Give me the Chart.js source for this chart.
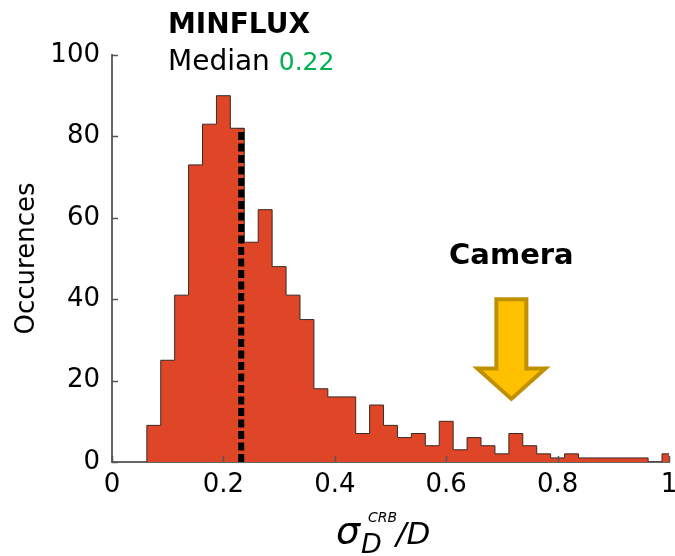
<!DOCTYPE html>
<html>
<head>
<meta charset="utf-8">
<script src="https://cdn.jsdelivr.net/npm/chart.js@4.4.0/dist/chart.umd.min.js"></script>
<style>
  html, body { margin: 0; padding: 0; background: #fff; }
  #wrap { width: 675px; height: 556px; position: relative; }
</style>
</head>
<body>
<div id="wrap"><canvas id="hist"></canvas></div>
<script>
// histogram bins (centre of each bin) and counts
const binCenters = [0.075, 0.1, 0.125, 0.15, 0.175, 0.2, 0.225, 0.25, 0.275, 0.3,
                    0.325, 0.35, 0.375, 0.4, 0.425, 0.45, 0.475, 0.5, 0.525, 0.55,
                    0.575, 0.6, 0.625, 0.65, 0.675, 0.7, 0.725, 0.75, 0.775, 0.8,
                    0.825, 0.85, 0.875, 0.9, 0.925, 0.95, 0.975, 1.0];
const counts = [9, 25, 41, 73, 83, 90, 82, 54, 62, 48,
                41, 35, 18, 16, 16, 7, 14, 9, 6, 7,
                4, 10, 3, 6, 4, 2, 7, 4, 2, 1,
                2, 1, 1, 1, 1, 1, 0, 2];
const binWidth = 0.025;

const xTicks = [0, 0.2, 0.4, 0.6, 0.8, 1];
const yTicks = [0, 20, 40, 60, 80, 100];

// median marker
const medianLabel = '0.22';
const medianLineX = 0.232;
const medianLineTop = 82;

// camera arrow (x position, shaft top, head base, tip)
const cameraX = 0.717;
const arrowTop = 40;
const arrowHead = 23;
const arrowTip = 15.5;

// outline of the histogram as a stepped path from the bins
const stepPoints = [{ x: binCenters[0] - binWidth / 2, y: 0 }];
binCenters.forEach((c, i) => stepPoints.push({ x: c - binWidth / 2, y: counts[i] }));
const lastEdge = binCenters[binCenters.length - 1] + binWidth / 2;
stepPoints.push({ x: lastEdge, y: counts[counts.length - 1] });
stepPoints.push({ x: lastEdge, y: 0 });

Chart.defaults.font.family = '"DejaVu Sans", sans-serif';
Chart.defaults.color = '#000';

// MATLAB style ticks pointing into the plot
const innerTicks = {
  id: 'innerTicks',
  afterDatasetsDraw(chart) {
    const ctx = chart.ctx;
    const { left, bottom } = chart.chartArea;
    ctx.save();
    ctx.strokeStyle = '#555';
    ctx.lineWidth = 1.5;
    ctx.beginPath();
    chart.scales.y.ticks.forEach(t => {
      const py = Math.round(chart.scales.y.getPixelForValue(t.value)) + 0.5;
      ctx.moveTo(left, py);
      ctx.lineTo(left + 6, py);
    });
    chart.scales.x.ticks.forEach(t => {
      const px = Math.round(chart.scales.x.getPixelForValue(t.value)) + 0.5;
      ctx.moveTo(px, bottom);
      ctx.lineTo(px, bottom - 6);
    });
    ctx.stroke();
    ctx.restore();
  }
};

const annotations = {
  id: 'annotations',
  afterDraw(chart) {
    const ctx = chart.ctx;
    const xs = chart.scales.x, ys = chart.scales.y;
    const left = chart.chartArea.left;

    // camera arrow
    const ax = xs.getPixelForValue(cameraX);
    const yTop = ys.getPixelForValue(arrowTop);
    const yHead = ys.getPixelForValue(arrowHead);
    const yTip = ys.getPixelForValue(arrowTip);
    ctx.save();
    ctx.beginPath();
    ctx.moveTo(ax - 15, yTop);
    ctx.lineTo(ax + 15, yTop);
    ctx.lineTo(ax + 15, yHead);
    ctx.lineTo(ax + 34, yHead);
    ctx.lineTo(ax, yTip);
    ctx.lineTo(ax - 34, yHead);
    ctx.lineTo(ax - 15, yHead);
    ctx.closePath();
    ctx.fillStyle = '#FFC000';
    ctx.fill();
    ctx.lineWidth = 4;
    ctx.lineJoin = 'miter';
    ctx.strokeStyle = '#BF9000';
    ctx.stroke();

    ctx.fillStyle = '#000';
    ctx.textBaseline = 'alphabetic';
    ctx.textAlign = 'center';
    ctx.font = 'bold 29px "DejaVu Sans"';
    ctx.fillText('Camera', ax, yTop - 35);

    // MINFLUX label
    ctx.textAlign = 'left';
    ctx.font = 'bold 28px "DejaVu Sans"';
    ctx.fillText('MINFLUX', left + 56, 33);
    ctx.font = '28px "DejaVu Sans"';
    ctx.fillText('Median ', left + 56, 70);
    const w = ctx.measureText('Median ').width;
    ctx.fillStyle = '#00B050';
    ctx.font = '25px "DejaVu Sans"';
    ctx.fillText(medianLabel, left + 56 + w, 70);

    // x axis title: sigma_D^CRB / D
    ctx.fillStyle = '#000';
    ctx.font = 'italic 38px "DejaVu Sans"';
    ctx.fillText('σ', 336, 543);
    ctx.font = 'italic 27px "DejaVu Sans"';
    ctx.fillText('D', 361, 553);
    ctx.font = 'italic 14px "DejaVu Sans"';
    ctx.fillText('CRB', 368, 522);
    ctx.font = 'italic 31px "DejaVu Sans"';
    ctx.fillText('/D', 396, 544);
    ctx.restore();
  }
};

new Chart(document.getElementById('hist'), {
  type: 'line',
  data: {
    datasets: [{
      label: 'MINFLUX',
      data: stepPoints,
      stepped: 'before',
      fill: 'origin',
      backgroundColor: '#DF4527',
      borderColor: '#3a2a25',
      borderWidth: 1,
      pointRadius: 0,
      order: 2
    }, {
      label: 'Median',
      data: [{ x: medianLineX, y: 0 }, { x: medianLineX, y: medianLineTop }],
      borderColor: '#000',
      borderWidth: 6,
      borderDash: [8, 3.5],
      borderCapStyle: 'butt',
      pointRadius: 0,
      fill: false,
      order: 1
    }]
  },
  options: {
    responsive: true,
    maintainAspectRatio: false,
    animation: false,
    layout: { padding: { top: 55, right: 2, left: 0, bottom: 0 } },
    plugins: {
      legend: { display: false },
      tooltip: { enabled: false }
    },
    scales: {
      x: {
        type: 'linear',
        min: 0,
        max: 1,
        z: 1,
        afterBuildTicks: (scale) => { scale.ticks = xTicks.map(v => ({ value: v })); },
        afterFit: (scale) => { scale.height = 94; scale.paddingRight = 6; },
        ticks: {
          font: { size: 26 },
          padding: 8,
          maxRotation: 0,
          callback: (v) => String(v)
        },
        grid: { drawOnChartArea: false, drawTicks: false },
        border: { color: '#666', width: 2 }
      },
      y: {
        min: 0,
        max: 100,
        z: 1,
        afterBuildTicks: (scale) => { scale.ticks = yTicks.map(v => ({ value: v })); },
        afterFit: (scale) => { scale.width = 112; },
        ticks: { font: { size: 26 }, padding: 12 },
        grid: { drawOnChartArea: false, drawTicks: false },
        border: { color: '#666', width: 2 },
        title: {
          display: true,
          text: 'Occurences',
          font: { size: 26 },
          padding: { top: 12, bottom: 0 }
        }
      }
    }
  },
  plugins: [innerTicks, annotations]
});
</script>
</body>
</html>
